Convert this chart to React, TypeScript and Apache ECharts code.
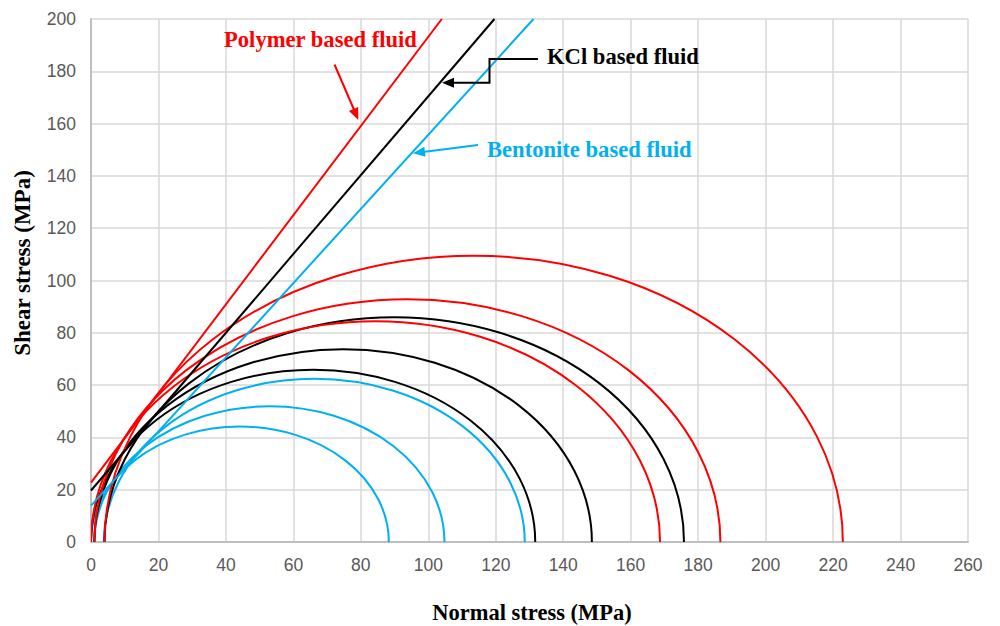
import React, { useEffect, useRef } from "react";
import * as echarts from "echarts";

// Mohr circles: [sigma3, sigma1] (MPa)
const bentoniteCircles: number[][] = [[0, 88.3], [1, 104.8], [3.8, 128.6]];
const kclCircles: number[][] = [[0, 131.7], [1, 148.5], [4, 175.8]];
const polymerCircles: number[][] = [[0, 168.7], [1, 186.6], [4, 222.9]];

// Failure envelopes: two end points [normal, shear]
const polymerEnvelope: number[][] = [[0, 22.7], [104.0, 200]];
const kclEnvelope: number[][] = [[0, 19.7], [119.6, 200]];
const bentoniteEnvelope: number[][] = [[0, 13.9], [131.2, 200]];

const xTicks = { min: 0, max: 260, interval: 20 };
const yTicks = { min: 0, max: 200, interval: 20 };

const RED = "#ff0000";
const BLACK = "#000000";
const BLUE = "#00b0f0";

function circleSeries(name: string, data: number[][], color: string) {
  return {
    name,
    type: "custom",
    coordinateSystem: "cartesian2d",
    encode: { x: [0, 1], y: [] as number[] },
    clip: true,
    data,
    renderItem: (params: any, api: any) => {
      const s3 = api.value(0);
      const s1 = api.value(1);
      const p1 = api.coord([s3, 0]);
      const p2 = api.coord([s1, 0]);
      const top = api.coord([(s3 + s1) / 2, (s1 - s3) / 2]);
      const rx = (p2[0] - p1[0]) / 2;
      const ry = p1[1] - top[1];
      return {
        type: "path",
        shape: {
          pathData: `M ${p1[0]} ${p1[1]} A ${rx} ${ry} 0 0 1 ${p2[0]} ${p2[1]}`,
        },
        style: { fill: "none", stroke: color, lineWidth: 2 },
      };
    },
  };
}

function lineSeries(name: string, data: number[][], color: string) {
  return {
    name,
    type: "line",
    data,
    symbol: "none",
    lineStyle: { color, width: 2 },
    z: 3,
  };
}

function arrowHead(tip: number[], from: number[], len: number, width: number, color: string) {
  const dx = tip[0] - from[0];
  const dy = tip[1] - from[1];
  const d = Math.sqrt(dx * dx + dy * dy);
  const ux = dx / d;
  const uy = dy / d;
  const bx = tip[0] - ux * len;
  const by = tip[1] - uy * len;
  const px = -uy * (width / 2);
  const py = ux * (width / 2);
  return {
    type: "polygon",
    shape: { points: [tip, [bx + px, by + py], [bx - px, by - py]] },
    style: { fill: color },
    z: 100,
  };
}

const serifBold = {
  fontFamily: "'Liberation Serif', 'Times New Roman', serif",
  fontWeight: "bold",
  fontSize: 22.6,
};

export default function App() {
  const ref = useRef<HTMLDivElement>(null);
  useEffect(() => {
    if (!ref.current) return;
    const chart = echarts.init(ref.current, undefined, { renderer: "svg" });
    const axisLabel = {
      color: "#595959",
      fontSize: 17.5,
      fontFamily: "'Liberation Sans', Arial, sans-serif",
    };
    chart.setOption({
      animation: false,
      backgroundColor: "#ffffff",
      grid: { left: 91, right: 32, top: 19, bottom: 84 },
      xAxis: {
        type: "value",
        ...xTicks,
        axisLine: { show: true, lineStyle: { color: "#bfbfbf", width: 2 } },
        axisTick: { show: false },
        axisLabel: { ...axisLabel, margin: 14 },
        splitLine: { show: true, lineStyle: { color: "#d9d9d9", width: 1.5 } },
      },
      yAxis: {
        type: "value",
        ...yTicks,
        axisLine: { show: true, lineStyle: { color: "#bfbfbf", width: 2 } },
        axisTick: { show: false },
        axisLabel: { ...axisLabel, margin: 15 },
        splitLine: { show: true, lineStyle: { color: "#d9d9d9", width: 1.5 } },
      },
      series: [
        circleSeries("Bentonite circles", bentoniteCircles, BLUE),
        circleSeries("KCl circles", kclCircles, BLACK),
        circleSeries("Polymer circles", polymerCircles, RED),
        lineSeries("Bentonite envelope", bentoniteEnvelope, BLUE),
        lineSeries("KCl envelope", kclEnvelope, BLACK),
        lineSeries("Polymer envelope", polymerEnvelope, RED),
      ],
      graphic: [
        {
          type: "text",
          x: 224,
          y: 39,
          style: { text: "Polymer based fluid", fill: RED, ...serifBold, textVerticalAlign: "middle" },
          z: 100,
        },
        {
          type: "line",
          shape: { x1: 334.5, y1: 64.5, x2: 355, y2: 112 },
          style: { stroke: RED, lineWidth: 2 },
          z: 100,
        },
        arrowHead([358.3, 120], [334.5, 64.5], 12, 10, RED),
        {
          type: "text",
          x: 547,
          y: 56,
          style: { text: "KCl based fluid", fill: BLACK, ...serifBold, textVerticalAlign: "middle" },
          z: 100,
        },
        {
          type: "polyline",
          shape: { points: [[538, 59], [489.5, 59], [489.5, 82.7], [452, 82.7]] },
          style: { stroke: BLACK, lineWidth: 2, fill: "none" },
          z: 100,
        },
        arrowHead([442, 82.7], [489.5, 82.7], 12, 10, BLACK),
        {
          type: "text",
          x: 487,
          y: 149.5,
          style: { text: "Bentonite based fluid", fill: BLUE, ...serifBold, textVerticalAlign: "middle" },
          z: 100,
        },
        {
          type: "line",
          shape: { x1: 478, y1: 145, x2: 423, y2: 152 },
          style: { stroke: BLUE, lineWidth: 2 },
          z: 100,
        },
        arrowHead([413, 153.3], [478, 145], 12, 10, BLUE),
        {
          type: "text",
          x: 532,
          y: 612,
          style: {
            text: "Normal stress (MPa)",
            fill: BLACK,
            ...serifBold,
            fontSize: 22.5,
            textAlign: "center",
            textVerticalAlign: "middle",
          },
        },
        {
          type: "text",
          x: 22,
          y: 263,
          rotation: Math.PI / 2,
          style: {
            text: "Shear stress (MPa)",
            fill: BLACK,
            ...serifBold,
            fontSize: 23,
            textAlign: "center",
            textVerticalAlign: "middle",
          },
        },
      ],
    });
    return () => chart.dispose();
  }, []);
  return (
    <div
      ref={ref}
      style={{ position: "absolute", left: 0, top: 0, width: 1000, height: 626 }}
    />
  );
}
